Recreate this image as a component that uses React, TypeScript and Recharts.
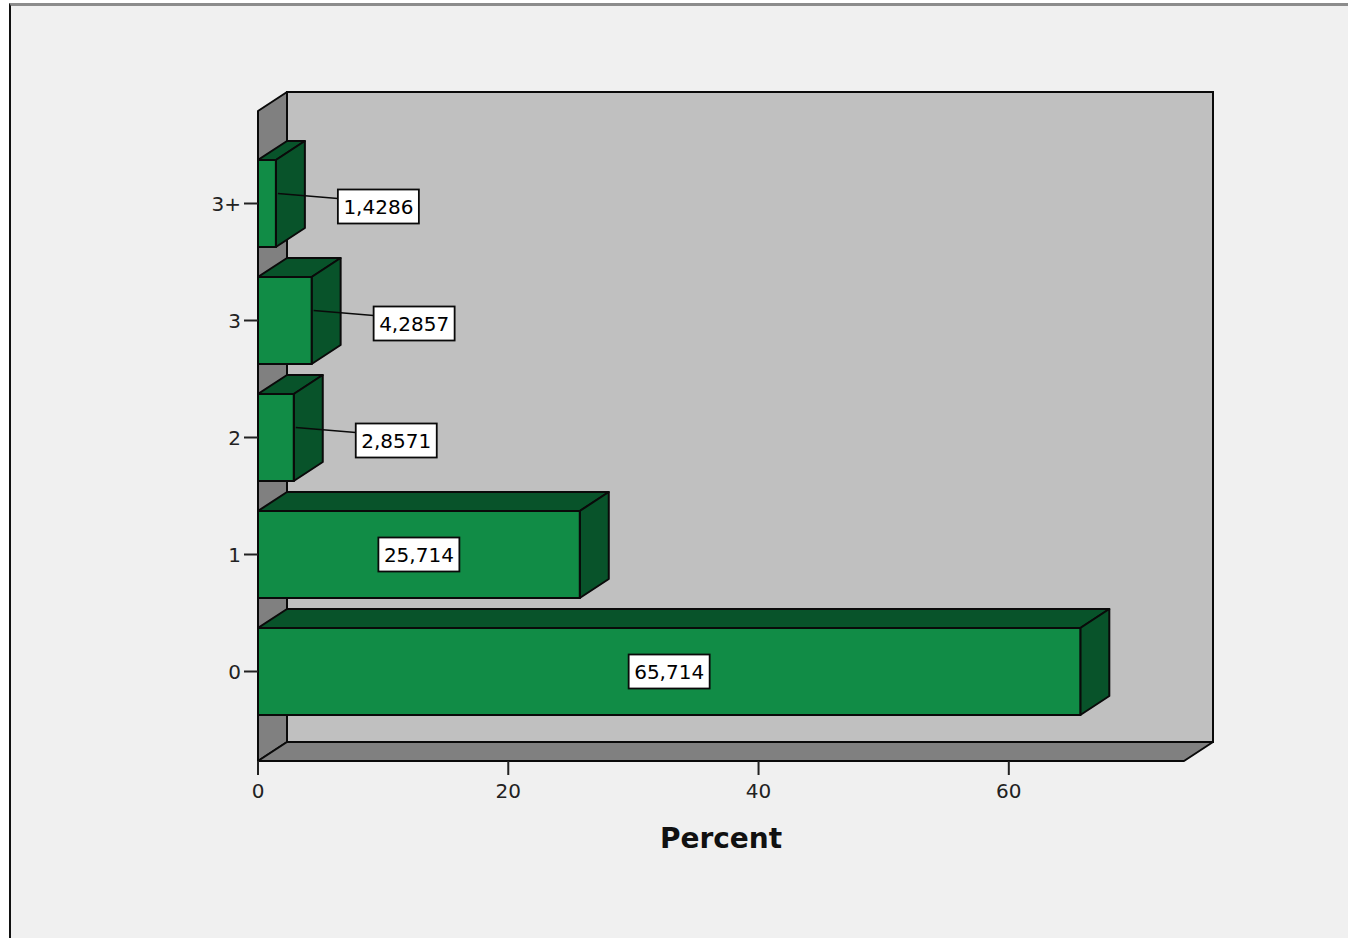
import React from 'react';
import { BarChart, Bar, XAxis, YAxis, LabelList, usePlotArea } from 'recharts';

// ---- data ----
const categories = ['0', '1', '2', '3', '3+'];
const percents = [65.714, 25.714, 2.8571, 4.2857, 1.4286];
const xTicks = [0, 20, 40, 60];
const xDomainMax = 74;
const axisTitle = 'Percent';

const data = categories.map((c, i) => ({ category: c, percent: percents[i] }));

// ---- style ----
const DX = 29;
const DY = 19;
const FONT = '"DejaVu Sans", Verdana, sans-serif';
const FRONT = '#118c46';
const DARK = '#08532a';
const BACKWALL = '#c0c0c0';
const SIDEWALL = '#808080';
const EDGE = '#0a0a0a';

function Walls() {
  const area: any = usePlotArea();
  if (!area) return null;
  const { x, y, width: w, height: h } = area;
  return (
    <g>
      <rect x={x + DX} y={y - DY} width={w} height={h} fill={BACKWALL} stroke={EDGE} strokeWidth={2} />
      <polygon
        points={`${x},${y} ${x + DX},${y - DY} ${x + DX},${y + h - DY} ${x},${y + h}`}
        fill={SIDEWALL}
        stroke={EDGE}
        strokeWidth={2}
        strokeLinejoin="round"
      />
      <polygon
        points={`${x},${y + h} ${x + w},${y + h} ${x + w + DX},${y + h - DY} ${x + DX},${y + h - DY}`}
        fill={SIDEWALL}
        stroke={EDGE}
        strokeWidth={2}
        strokeLinejoin="round"
      />
    </g>
  );
}

const Bar3D = (props: any) => {
  const { x, y, width: w, height: h } = props;
  if (w == null || h == null) return null;
  return (
    <g>
      <polygon
        points={`${x},${y} ${x + w},${y} ${x + w + DX},${y - DY} ${x + DX},${y - DY}`}
        fill={DARK}
        stroke={EDGE}
        strokeWidth={2}
        strokeLinejoin="round"
      />
      <polygon
        points={`${x + w},${y} ${x + w + DX},${y - DY} ${x + w + DX},${y + h - DY} ${x + w},${y + h}`}
        fill={DARK}
        stroke={EDGE}
        strokeWidth={2}
        strokeLinejoin="round"
      />
      <rect x={x} y={y} width={w} height={h} fill={FRONT} stroke={EDGE} strokeWidth={2} />
    </g>
  );
};

const ValueLabel = (props: any) => {
  const vb = props.viewBox || {};
  const x = props.x ?? vb.x;
  const y = props.y ?? vb.y;
  const w = props.width ?? vb.width;
  const h = props.height ?? vb.height;
  const value = props.value;
  if (x == null || y == null || w == null || h == null) return null;
  const text = String(value).replace('.', ',');
  const bw = 81;
  const bh = 34;
  const cy = y + h / 2;
  if (w > bw + 30) {
    const cx = x + w / 2;
    return (
      <g>
        <rect x={cx - bw / 2} y={cy - bh / 2} width={bw} height={bh} fill="#fff" stroke={EDGE} strokeWidth={1.8} />
        <text x={cx} y={cy + 7} textAnchor="middle" fontFamily={FONT} fontSize={20} fill="#000">
          {text}
        </text>
      </g>
    );
  }
  const ex = x + w;
  const bx = ex + 62;
  const bcy = cy + 3;
  return (
    <g>
      <line x1={ex + 2} y1={cy - 10} x2={bx} y2={bcy - 8} stroke={EDGE} strokeWidth={1.5} />
      <rect x={bx} y={bcy - bh / 2} width={bw} height={bh} fill="#fff" stroke={EDGE} strokeWidth={1.8} />
      <text x={bx + bw / 2} y={bcy + 7} textAnchor="middle" fontFamily={FONT} fontSize={20} fill="#000">
        {text}
      </text>
    </g>
  );
};

export default function App() {
  return (
    <div style={{ position: 'absolute', left: 0, top: 0, width: 1348, height: 938, background: '#fff', overflow: 'hidden' }}>
      <div
        style={{
          position: 'absolute',
          left: 9,
          top: 3,
          width: 1360,
          height: 960,
          background: '#f0f0f0',
          borderTop: '3px solid #8c8c8c',
          borderLeft: '2px solid #111',
        }}
      />
      <div style={{ position: 'absolute', left: 0, top: 0 }}>
        <BarChart
          width={1348}
          height={938}
          data={data}
          layout="vertical"
          margin={{ top: 111, right: 164, bottom: 87, left: 198 }}
          barSize={87}
        >
          <Walls />
          <XAxis
            type="number"
            dataKey="percent"
            domain={[0, xDomainMax]}
            ticks={xTicks}
            allowDataOverflow
            height={90}
            axisLine={false}
            tickSize={14}
            tickMargin={9}
            tickLine={{ stroke: '#222', strokeWidth: 2 }}
            tick={{ fontFamily: FONT, fontSize: 20, fill: '#222' }}
            label={{
              value: axisTitle,
              position: 'insideBottom',
              offset: 3,
              style: { fontFamily: FONT, fontSize: 28, fontWeight: 'bold', fill: '#111' },
            }}
          />
          <YAxis
            type="category"
            dataKey="category"
            reversed
            width={60}
            padding={{ top: 34, bottom: 31 }}
            axisLine={false}
            tickSize={14}
            tickMargin={3}
            tickLine={{ stroke: '#222', strokeWidth: 2 }}
            tick={{ fontFamily: FONT, fontSize: 20, fill: '#222' }}
          />
          <Bar dataKey="percent" shape={Bar3D} isAnimationActive={false}>
            <LabelList dataKey="percent" content={ValueLabel} />
          </Bar>
        </BarChart>
      </div>
    </div>
  );
}
